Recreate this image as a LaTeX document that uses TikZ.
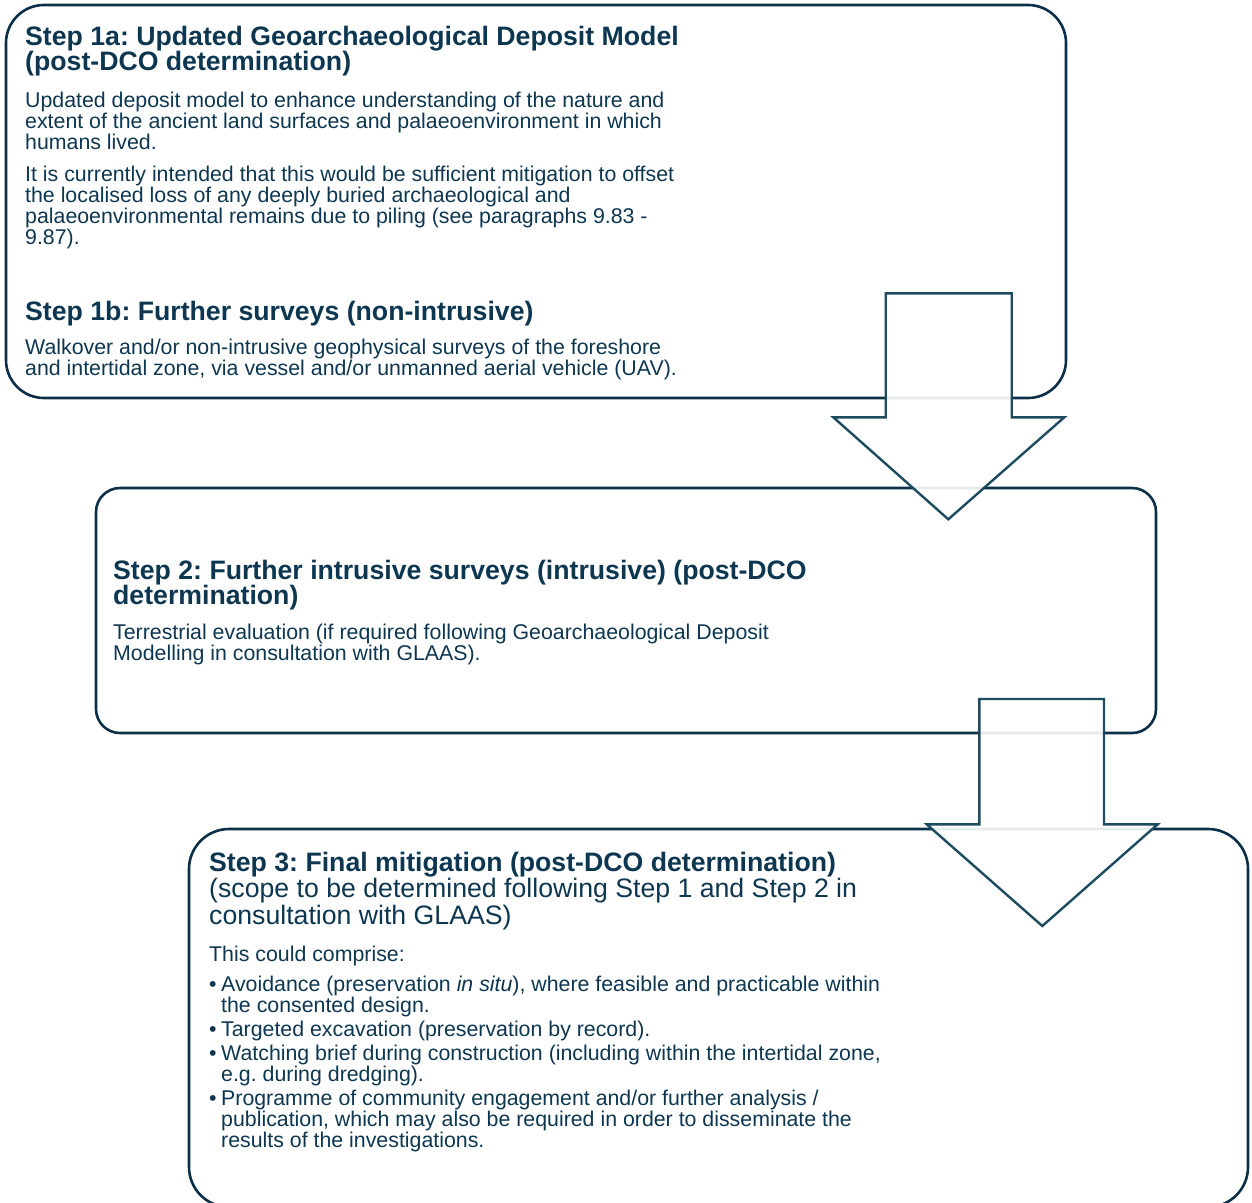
\documentclass[tikz,border=0pt]{standalone}
\usepackage{fontspec}
\setmainfont{Liberation Sans}
\frenchspacing
\definecolor{txt}{HTML}{0D3650}
\definecolor{boxc}{HTML}{0B2F47}
\definecolor{arrc}{HTML}{1D4B60}
\newcommand\myline[1]{\hbox{#1}}
\newcommand\txtblock[1]{\vtop{\lineskiplimit=-100pt\lineskip=0pt\relax#1}}
\newcommand\bul{\makebox[12pt][l]{•}}
\newcommand\ind{\hspace*{12pt}}
\tikzset{
  stepbox/.style={draw=boxc, line width=2.6pt, rectangle, inner sep=0pt},
  blockarrow/.style={draw=arrc, line width=2.4pt, fill=white, fill opacity=0.9, line join=miter},
  ttl/.style={anchor=base west, inner sep=0pt, text=txt, font=\fontsize{26.67}{25}\selectfont\bfseries},
  ttlreg/.style={anchor=base west, inner sep=0pt, text=txt, font=\fontsize{26.67}{26.5}\selectfont},
  bdy/.style={anchor=base west, inner sep=0pt, text=txt, font=\fontsize{21.33}{21}\selectfont},
}
\begin{document}
\begin{tikzpicture}[x=1pt,y=1pt]
\useasboundingbox (0,0) rectangle (1252,-1202);
% boxes
\node[stepbox, minimum width=1060pt, minimum height=393pt, rounded corners=38pt] (b1) at (536,-201.5) {};
\node[stepbox, minimum width=1060pt, minimum height=245pt, rounded corners=24pt] (b2) at (626,-610.5) {};
\node[stepbox, minimum width=1059pt, minimum height=378pt, rounded corners=40pt] (b3) at (718.5,-1018) {};
% arrows
\coordinate (a1top) at (948.7,-293.3);
\coordinate (a2top) at (1041.7,-699);
\draw[blockarrow] (885.7,-293.3) -- (1011.7,-293.3) -- (1011.7,-417.3) -- (1064.3,-417.3) -- (948.3,-519.3) -- (833.3,-417.3) -- (885.7,-417.3) -- cycle;
\draw[blockarrow] (979.3,-699) -- (1104,-699) -- (1104,-824.3) -- (1157.7,-824.3) -- (1042.3,-926) -- (926.7,-824.3) -- (979.3,-824.3) -- cycle;
% box 1 text
\node[ttl] (t1a) at (25,-45) {\txtblock{\myline{Step 1a: Updated Geoarchaeological Deposit Model}\myline{(post-DCO determination)}}};
\node[bdy] (p1a) at (25,-107) {\txtblock{%
\myline{Updated deposit model to enhance understanding of the nature and}%
\myline{extent of the ancient land surfaces and palaeoenvironment in which}%
\myline{humans lived.}}};
\node[bdy] (p1a2) at (25,-181) {\txtblock{%
\myline{It is currently intended that this would be sufficient mitigation to offset}%
\myline{the localised loss of any deeply buried archaeological and}%
\myline{palaeoenvironmental remains due to piling (see paragraphs 9.83 -}%
\myline{9.87).}}};
\node[ttl] (t1b) at (25,-320) {Step 1b: Further surveys (non-intrusive)};
\node[bdy] (p1b) at (25,-354) {\txtblock{%
\myline{Walkover and/or non-intrusive geophysical surveys of the foreshore}%
\myline{and intertidal zone, via vessel and/or unmanned aerial vehicle (UAV).}}};
% box 2 text
\node[ttl] (t2) at (113,-579) {\txtblock{\myline{Step 2: Further intrusive surveys (intrusive) (post-DCO}\myline{determination)}}};
\node[bdy] (p2) at (113,-639) {\txtblock{%
\myline{Terrestrial evaluation (if required following Geoarchaeological Deposit}%
\myline{Modelling in consultation with GLAAS).}}};
% box 3 text
\node[ttlreg] (t3) at (209,-871) {\txtblock{%
\myline{\bfseries Step 3: Final mitigation (post-DCO determination)}%
\myline{(scope to be determined following Step 1 and Step 2 in}%
\myline{consultation with GLAAS)}}};
\node[bdy] (p3) at (209,-961) {This could comprise:};
\node[bdy] (l3) at (209,-991) {\txtblock{%
\myline{\bul Avoidance (preservation \textit{in situ}), where feasible and practicable within}%
\myline{\ind the consented design.}\vskip3pt
\myline{\bul Targeted excavation (preservation by record).}\vskip3pt
\myline{\bul Watching brief during construction (including within the intertidal zone,}%
\myline{\ind e.g. during dredging).}\vskip3pt
\myline{\bul Programme of community engagement and/or further analysis /}%
\myline{\ind publication, which may also be required in order to disseminate the}%
\myline{\ind results of the investigations.}}};
\end{tikzpicture}
\end{document}
